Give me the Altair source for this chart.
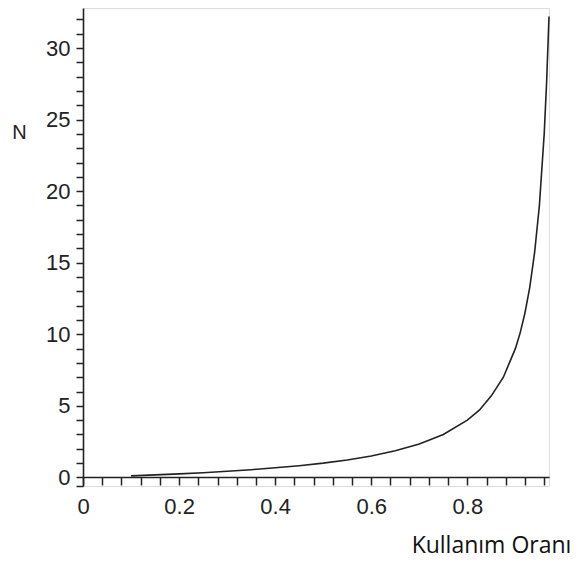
import altair as alt
import pandas as pd

# utilisation (x) and N values
rho = [0.10, 0.15, 0.20, 0.25, 0.30, 0.35, 0.40, 0.45, 0.50, 0.55, 0.60, 0.65,
       0.70, 0.75, 0.80, 0.825, 0.85, 0.875, 0.90, 0.91, 0.92, 0.93, 0.94,
       0.95, 0.96, 0.965, 0.97]
n_vals = [0.11, 0.18, 0.25, 0.33, 0.43, 0.54, 0.67, 0.82, 1.0, 1.22, 1.5, 1.86,
          2.33, 3.0, 4.0, 4.7, 5.7, 7.0, 9.0, 10.1, 11.5, 13.3, 15.7,
          19.0, 24.0, 27.6, 32.2]

x_ticks = [0, 0.04, 0.08, 0.12, 0.16, 0.2, 0.24, 0.28, 0.32, 0.36, 0.4, 0.44,
           0.48, 0.52, 0.56, 0.6, 0.64, 0.68, 0.72, 0.76, 0.8, 0.84, 0.88,
           0.92, 0.96]
y_ticks = [-0.6, 0, 1, 2, 3, 4, 5, 6, 7, 8, 9, 10, 11, 12, 13, 14, 15, 16, 17,
           18, 19, 20, 21, 22, 23, 24, 25, 26, 27, 28, 29, 30, 31, 32]

df = pd.DataFrame({"rho": rho, "N": n_vals})

ink = "#222222"
label_font = "Liberation Sans"

chart = alt.Chart(df).mark_line(color=ink, strokeWidth=1.6).encode(
    x=alt.X("rho:Q",
            scale=alt.Scale(domain=[0, 0.97], nice=False, zero=False),
            axis=alt.Axis(
                values=x_ticks,
                labelExpr="abs(datum.value*5 - round(datum.value*5)) < 1e-6 ? format(datum.value, '.1~f') : ''",
                offset=-9,
                grid=False,
                tickSize=8,
                tickWidth=1.5,
                domainWidth=1.6,
                domainColor=ink,
                tickColor=ink,
                labelColor=ink,
                labelFont=label_font,
                labelFontSize=22,
                labelPadding=11,
                labelFlush=False,
                labelOverlap=False,
                title="Kullanım Oranı",
                titleFont="Open Sans",
                titleFontSize=23,
                titleFontWeight="normal",
                titleColor="#111111",
                titleAlign="center",
                titleBaseline="alphabetic",
                titleAnchor="start",
                titleX=408,
                titleY=75,
            )),
    y=alt.Y("N:Q",
            scale=alt.Scale(domain=[-0.6, 32.8], nice=False, zero=False),
            axis=alt.Axis(
                values=y_ticks,
                labelExpr="datum.value >= 0 && datum.value % 5 == 0 ? datum.label : ''",
                grid=False,
                tickSize=7,
                tickWidth=1.5,
                domainWidth=1.6,
                domainColor=ink,
                tickColor=ink,
                labelColor=ink,
                labelFont=label_font,
                labelFontSize=22,
                labelPadding=6,
                labelFlush=False,
                labelOverlap=False,
                title="N",
                titleFont=label_font,
                titleFontSize=20,
                titleFontWeight="normal",
                titleColor=ink,
                titleAngle=0,
                titleAlign="center",
                titleBaseline="alphabetic",
                titleAnchor="start",
                titleX=-64,
                titleY=130,
            )),
).properties(
    width=466,
    height=478,
    autosize=alt.AutoSizeParams(type="none"),
    padding={"left": 75, "top": 0, "right": 30, "bottom": 75},
).configure_view(stroke=None).configure(background="white")

chart.save("out.html", embed_options={"renderer": "svg", "actions": False})
